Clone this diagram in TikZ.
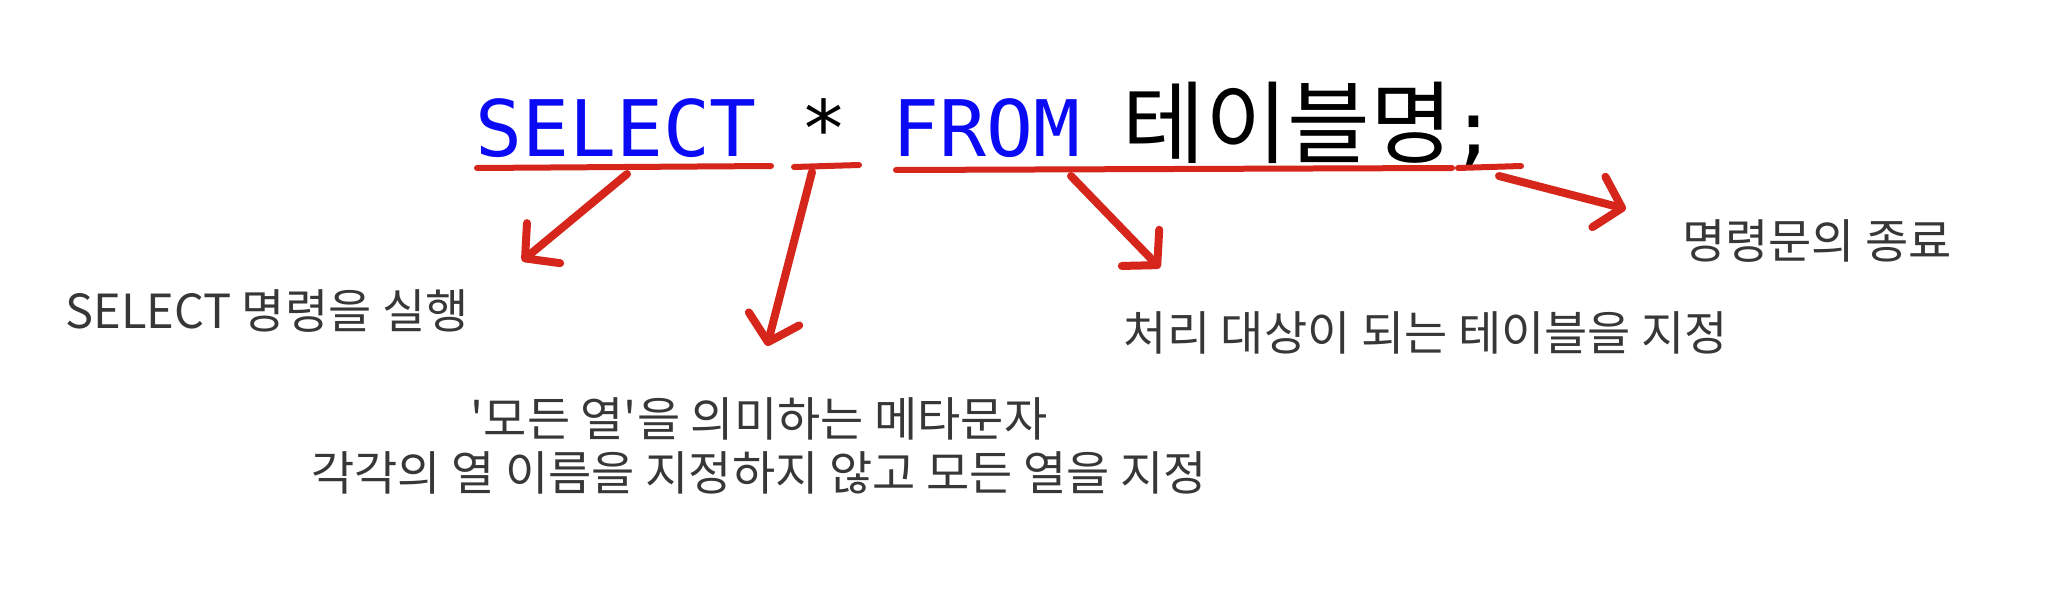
\documentclass[tikz,border=0pt]{standalone}
\usepackage{fontspec}
\usetikzlibrary{arrows.meta}
\newfontfamily\krfont{Noto Sans CJK KR}
\newfontfamily\codefont{DejaVu Sans Mono}
\definecolor{marker}{RGB}{214,38,28}
\definecolor{codeblue}{RGB}{10,10,245}
\definecolor{note}{RGB}{55,55,55}
\tikzset{
  code/.style={inner sep=0pt, anchor=base west, font=\codefont\fontsize{78}{80}\selectfont, text=codeblue},
  kor/.style={inner sep=0pt, anchor=base west, font=\krfont\fontsize{90}{96}\selectfont, text=black},
  notetext/.style={inner sep=0pt, font=\krfont\fontsize{47}{54}\selectfont, text=note, align=center},
  uline/.style={draw=marker, line width=6pt, line cap=round},
  redarrow/.style={draw=marker, line width=8pt, line cap=round, line join=round,
    -{Straight Barb[length=24pt, width=52pt, line width=8pt, round]}},
}
\begin{document}
\begin{tikzpicture}[x=1pt, y=-1pt]
\useasboundingbox (0,0) rectangle (2048,607);
\fill[white] (0,0) rectangle (2048,607);
% title
\node[code] (sel) at (475,157) {SELECT};
\node[code, text=black] (star) at (800,157) {*};
\node[code] (from) at (892,157) {FROM};
\node[kor] (tbl) at (1122,157) {테이블명};
\node[code, text=black] (semi) at (1450,157) {;};
% underlines
\coordinate (u1a) at (477,168); \coordinate (u1b) at (771,166);
\coordinate (u2a) at (794,167); \coordinate (u2b) at (859,165);
\coordinate (u3a) at (896,170); \coordinate (u3b) at (1452,168);
\coordinate (u4a) at (1458,168); \coordinate (u4b) at (1521,166);
\draw[uline] (u1a) -- (u1b);
\draw[uline] (u2a) -- (u2b);
\draw[uline] (u3a) -- (u3b);
\draw[uline] (u4a) -- (u4b);
% arrows
\coordinate (a1s) at (627,174); \coordinate (a1e) at (522,261);
\coordinate (a2s) at (812,172); \coordinate (a2e) at (767,346);
\coordinate (a3s) at (1071,176); \coordinate (a3e) at (1160,268);
\coordinate (a4s) at (1499,176); \coordinate (a4e) at (1626,209);
\draw[redarrow] (a1s) -- (a1e);
\draw[redarrow] (a2s) -- (a2e);
\draw[redarrow] (a3s) -- (a3e);
\draw[redarrow] (a4s) -- (a4e);
% notes
\node[notetext] (n1) at (267,311) {SELECT 명령을 실행};
\node[notetext] (n2) at (759,446) {'모든 열'을 의미하는 메타문자\\각각의 열 이름을 지정하지 않고 모든 열을 지정};
\node[notetext] (n3) at (1426,333) {처리 대상이 되는 테이블을 지정};
\node[notetext] (n4) at (1817,241) {명령문의 종료};
\end{tikzpicture}
\end{document}
